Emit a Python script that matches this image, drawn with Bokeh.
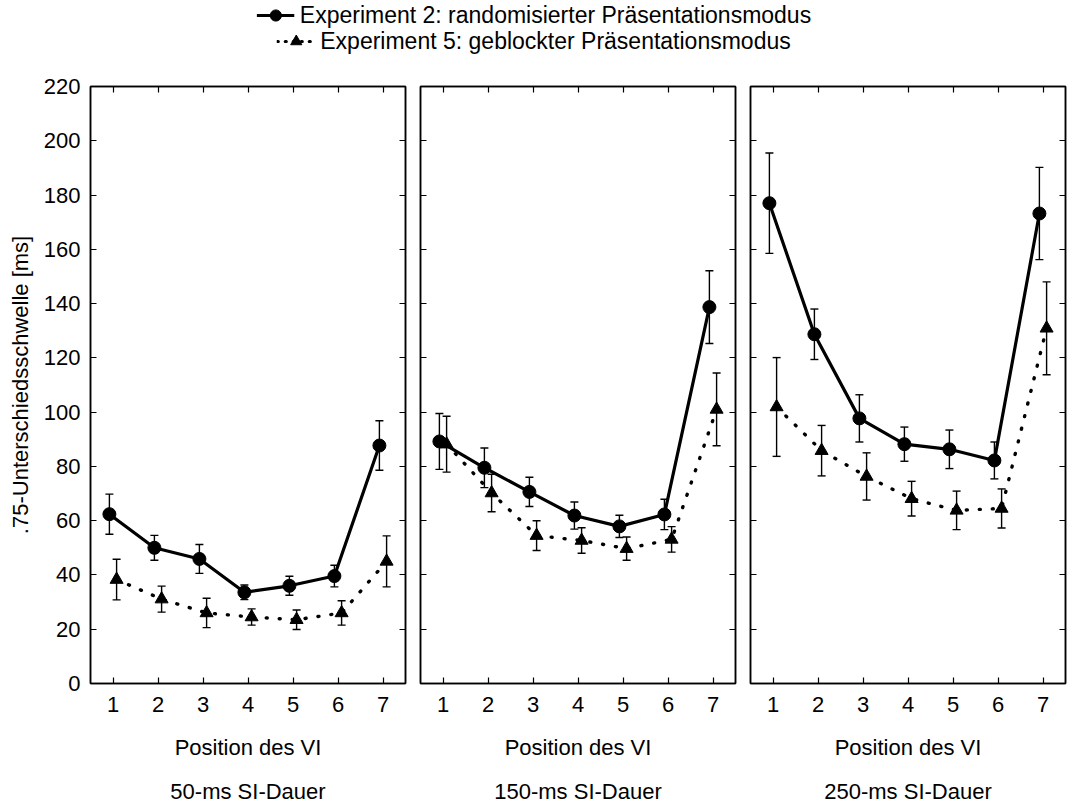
from bokeh.plotting import figure
from bokeh.models import (ColumnDataSource, Whisker, TeeHead, LinearAxis,
                          Legend, LegendItem, Range1d, FixedTicker)
from bokeh.layouts import column, row
from bokeh.transform import dodge
from bokeh.embed import file_html
from bokeh.resources import INLINE

# ---------------- data ----------------
positions = [1, 2, 3, 4, 5, 6, 7]
x_ticks = [1, 2, 3, 4, 5, 6, 7]
y_ticks = [0, 20, 40, 60, 80, 100, 120, 140, 160, 180, 200, 220]
panel_titles = ["50-ms SI-Dauer", "150-ms SI-Dauer", "250-ms SI-Dauer"]
x_label = "Position des VI"
y_label = ".75-Unterschiedsschwelle [ms]"
series_names = ["Experiment 2: randomisierter Präsentationsmodus",
                "Experiment 5: geblockter Präsentationsmodus"]

exp2_50 = [62.4, 50.0, 45.9, 33.6, 36.0, 39.6, 87.7]
exp2_50_err = [7.4, 4.6, 5.3, 2.7, 3.5, 4.0, 9.1]
exp5_50 = [38.3, 31.1, 26.0, 24.5, 23.5, 26.0, 45.0]
exp5_50_err = [7.5, 4.8, 5.4, 3.0, 3.6, 4.5, 9.4]

exp2_150 = [89.2, 79.5, 70.6, 61.9, 57.9, 62.3, 138.7]
exp2_150_err = [10.3, 7.3, 5.4, 5.0, 4.1, 5.6, 13.4]
exp5_150 = [88.2, 70.2, 54.5, 52.7, 49.7, 53.1, 101.0]
exp5_150_err = [10.3, 6.9, 5.5, 4.7, 4.3, 4.7, 13.4]

exp2_250 = [177.0, 128.7, 97.7, 88.2, 86.3, 82.2, 173.2]
exp2_250_err = [18.5, 9.3, 8.7, 6.3, 7.1, 6.8, 17.0]
exp5_250 = [101.9, 85.8, 76.3, 68.1, 63.8, 64.5, 130.9]
exp5_250_err = [18.2, 9.3, 8.7, 6.4, 7.1, 7.2, 17.1]

panels_data = [
    (exp2_50, exp2_50_err, exp5_50, exp5_50_err),
    (exp2_150, exp2_150_err, exp5_150, exp5_150_err),
    (exp2_250, exp2_250_err, exp5_250, exp5_250_err),
]

# ---------------- style ----------------
FONT = "Liberation Sans"
FS = "22px"
LEG_FS = "23px"
LEG_H = 56
PANEL_H = 807 - LEG_H
FRAME_W = 315
borders = [(90, 7), (8, 7), (8, 2)]
DOT_DASH = "1 12"
OFF = 0.08


def style_axis(ax, ticks, show_labels):
    ax.ticker = FixedTicker(ticks=ticks)
    ax.major_tick_in = 6
    ax.major_tick_out = 0
    ax.minor_tick_line_color = None
    ax.axis_line_color = "black"
    ax.axis_line_width = 1.5
    ax.major_tick_line_color = "black"
    ax.major_tick_line_width = 1.2
    ax.major_label_text_font = FONT
    if show_labels:
        ax.major_label_text_font_size = FS
        ax.major_label_text_color = "black"
    else:
        ax.major_label_text_font_size = "0px"
        ax.major_label_text_color = None
        ax.major_label_standoff = 0


def label_style(ax, text, standoff):
    ax.axis_label = text
    ax.axis_label_text_font = FONT
    ax.axis_label_text_font_size = FS
    ax.axis_label_text_font_style = "normal"
    ax.axis_label_text_color = "black"
    ax.axis_label_standoff = standoff


def make_panel(i):
    y2, e2, y5, e5 = panels_data[i]
    bl, br = borders[i]
    p = figure(width=bl + FRAME_W + br, height=PANEL_H,
               x_range=Range1d(0.5, 7.5), y_range=Range1d(0, 220),
               output_backend="svg", toolbar_location=None,
               min_border_left=bl, min_border_right=br,
               min_border_top=86 - LEG_H, min_border_bottom=807 - 683)
    p.xgrid.visible = False
    p.ygrid.visible = False
    p.outline_line_color = "black"
    p.outline_line_width = 1.5
    p.background_fill_color = "white"
    p.border_fill_color = "white"

    xa = p.xaxis[0]
    style_axis(xa, x_ticks, True)
    xa.major_label_standoff = 13
    label_style(xa, x_label, 20)

    ya = p.yaxis[0]
    style_axis(ya, y_ticks, i == 0)
    if i == 0:
        ya.major_label_standoff = 10
        label_style(ya, y_label, 8)

    top_ax = LinearAxis()
    style_axis(top_ax, x_ticks, False)
    p.add_layout(top_ax, "above")
    right_ax = LinearAxis()
    style_axis(right_ax, y_ticks, False)
    p.add_layout(right_ax, "right")

    # second, tick-less axis below carrying the panel's condition name
    cond_ax = LinearAxis()
    style_axis(cond_ax, [], False)
    cond_ax.axis_line_color = None
    cond_ax.major_tick_line_color = None
    label_style(cond_ax, panel_titles[i], 16)
    p.add_layout(cond_ax, "below")

    src2 = ColumnDataSource(dict(x=positions, y=y2,
                                 upper=[a + b for a, b in zip(y2, e2)],
                                 lower=[a - b for a, b in zip(y2, e2)]))
    src5 = ColumnDataSource(dict(x=positions, y=y5,
                                 upper=[a + b for a, b in zip(y5, e5)],
                                 lower=[a - b for a, b in zip(y5, e5)]))

    for src, off in ((src2, -OFF), (src5, OFF)):
        w = Whisker(base=dodge("x", off), upper="upper", lower="lower", source=src,
                    line_color="black", line_width=1.4,
                    upper_head=TeeHead(size=8, line_color="black", line_width=1.4),
                    lower_head=TeeHead(size=8, line_color="black", line_width=1.4))
        p.add_layout(w)

    p.line(dodge("x", OFF), "y", source=src5, line_color="black", line_width=3.4,
           line_dash=DOT_DASH, line_cap="round")
    p.line(dodge("x", -OFF), "y", source=src2, line_color="black", line_width=3.2)
    p.scatter(dodge("x", -OFF), "y", source=src2, marker="circle", size=13,
              fill_color="black", line_color="black")
    p.scatter(dodge("x", OFF), "y", source=src5, marker="triangle", size=13,
              fill_color="black", line_color="black")
    return p


panels = [make_panel(i) for i in range(3)]

# ---------------- legend strip ----------------
lg = figure(width=1067, height=LEG_H, x_range=Range1d(0, 1), y_range=Range1d(-1, 0),
            output_backend="svg", toolbar_location=None,
            x_axis_type=None, y_axis_type=None, min_border=0)
lg.outline_line_color = None
lg.xgrid.visible = False
lg.ygrid.visible = False
# renderers carry the real series but lie outside this strip's visible range
leg_src2 = ColumnDataSource(dict(x=positions, y=exp2_50))
leg_src5 = ColumnDataSource(dict(x=positions, y=exp5_50))
l2 = lg.line("x", "y", source=leg_src2, line_color="black", line_width=3.2)
m2 = lg.scatter("x", "y", source=leg_src2, marker="circle", size=13,
                fill_color="black", line_color="black")
l5 = lg.line("x", "y", source=leg_src5, line_color="black", line_width=3.2,
             line_dash="1 7", line_cap="round")
m5 = lg.scatter("x", "y", source=leg_src5, marker="triangle", size=13,
                fill_color="black", line_color="black")

for items, loc in (([LegendItem(label=series_names[0], renderers=[l2, m2])], "top_center"),
                   ([LegendItem(label=series_names[1], renderers=[l5, m5])], "bottom_center")):
    leg = Legend(items=items, location=loc, margin=1, padding=0, spacing=0,
                 glyph_width=38, glyph_height=28, label_standoff=6,
                 label_text_font=FONT, label_text_font_size=LEG_FS,
                 label_text_color="black",
                 border_line_color=None, background_fill_alpha=0)
    lg.add_layout(leg)

layout = column(lg, row(*panels, spacing=0), spacing=0)

with open("out.html", "w") as f:
    f.write(file_html(layout, INLINE))
